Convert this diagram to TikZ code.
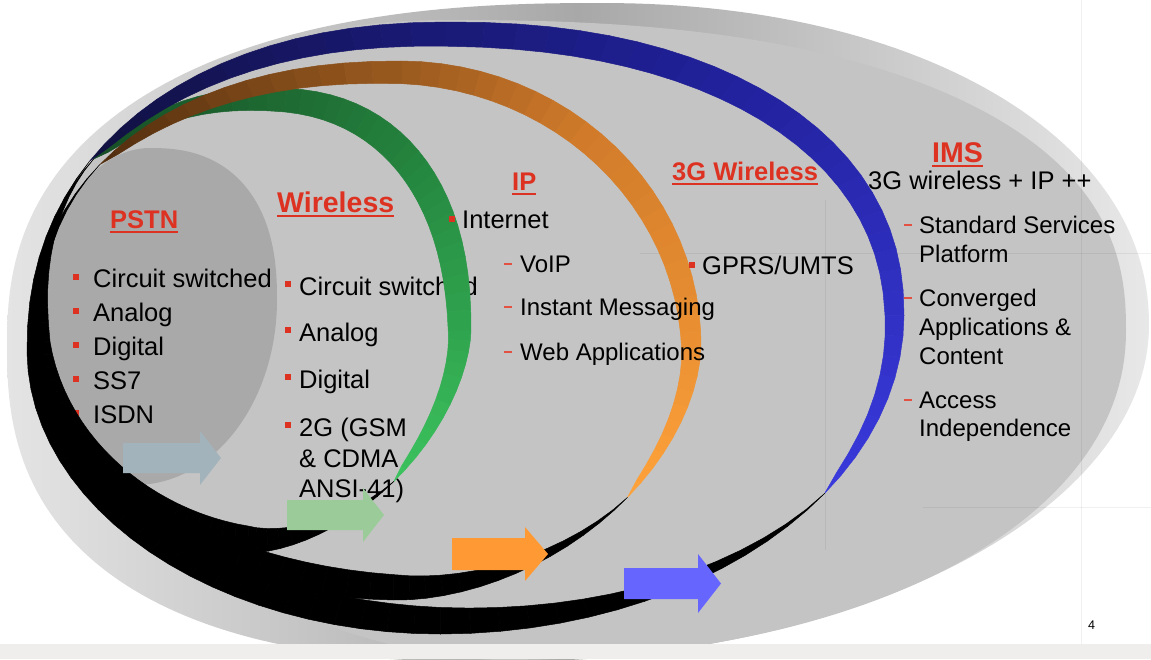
\documentclass[tikz,border=0pt]{standalone}
\usepackage{fontspec}
\usepackage{xfp}
\setmainfont{Liberation Sans}
\definecolor{bred}{RGB}{221,50,33}
\definecolor{maingrey}{HTML}{C4C4C4}
\definecolor{pstngrey}{HTML}{A9A9A9}
\definecolor{rimL}{HTML}{E4E4E4}
\definecolor{rimM}{HTML}{A8A8A8}
\definecolor{rimR}{HTML}{E8E8E8}
\definecolor{stripc}{HTML}{F0EEEC}
\definecolor{gD}{HTML}{174D26}
\definecolor{gM}{HTML}{24843E}
\definecolor{gB}{HTML}{3CC35E}
\definecolor{oD}{HTML}{4F2C0E}
\definecolor{oM}{HTML}{D07A2A}
\definecolor{oB}{HTML}{FFA23A}
\definecolor{bD}{HTML}{10103F}
\definecolor{bM}{HTML}{20209A}
\definecolor{bB}{HTML}{3A3ADE}
\definecolor{arGrey}{HTML}{A3B3BB}
\definecolor{arGreen}{HTML}{9CCB9A}
\definecolor{arOrange}{HTML}{FF9933}
\definecolor{arBlue}{HTML}{6666FF}

% egg-shaped outline made of four quarter super-ellipses
\newcommand\eggparams[8]{\def\eXT{#1}\def\eYT{#2}\def\eXR{#3}\def\eYR{#4}\def\eXB{#5}\def\eYB{#6}\def\eXL{#7}\def\eYL{#8}}
\newcommand\eggexps[4]{\def\eNa{#1}\def\eNb{#2}\def\eNc{#3}\def\eNd{#4}}
\newcommand\egN[1]{(sind(#1)>0 ? (cosd(#1)>0 ? \eNb : \eNc) : (cosd(#1)>0 ? \eNa : \eNd))}
\newcommand\egCX[1]{(sind(#1)>0 ? \eXB : \eXT)}
\newcommand\egCY[1]{(cosd(#1)>0 ? \eYR : \eYL)}
\newcommand\egRX[1]{(cosd(#1)>0 ? \eXR-\egCX{#1} : \egCX{#1}-\eXL)}
\newcommand\egRY[1]{(sind(#1)>0 ? \eYB-\egCY{#1} : \egCY{#1}-\eYT)}
\newcommand\egX[2]{\fpeval{round(\egCX{#1}+(\egRX{#1}-(#2))*(cosd(#1)<0 ? -1 : 1)*(max(abs(cosd(#1)),1e-9))^(2/\egN{#1}),2)}}
\newcommand\egY[2]{\fpeval{round(\egCY{#1}+(\egRY{#1}-(#2))*(sind(#1)<0 ? -1 : 1)*(max(abs(sind(#1)),1e-9))^(2/\egN{#1}),2)}}

% filled egg outline: #1 path options, #2 number of samples
\newcommand\eggfill[2]{%
  \gdef\egPath{}%
  \foreach \k in {0,...,#2}{%
    \edef\egT{\fpeval{360*\k/#2}}%
    \xdef\egPath{\egPath (\egX{\egT}{0},\egY{\egT}{0}) --}%
  }%
  \edef\egCmd{\noexpand\path[#1] \egPath cycle;}%
  \egCmd
}

% ring: #1 t1 (upper-left junction), #2 t2 (lower-right junction), #3 coloured width, #4 black width,
% #5 dark, #6 mid, #7 bright, #8 pieces, #9 exponent of the black profile
\newcommand\drawring[9]{%
  \edef\rgTa{\fpeval{#1}}%
  \edef\rgSpan{\fpeval{#2+360-(#1)}}%
  \foreach \i in {1,...,#8}{%
    \edef\rgA{\fpeval{\rgTa+(\i-1)*\rgSpan/#8}}%
    \edef\rgB{\fpeval{\rgTa+\i*\rgSpan/#8}}%
    \edef\rgWa{\fpeval{round(#3*(max(sind(180*(\rgA-\rgTa)/\rgSpan),1e-9))^0.6,2)}}%
    \edef\rgWb{\fpeval{round(#3*(max(sind(180*(\rgB-\rgTa)/\rgSpan),1e-9))^0.6,2)}}%
    \edef\rgPc{\fpeval{trunc(200*(\i-0.5)/#8)}}%
    \ifnum\rgPc<100 \colorlet{bandc}{#6!\rgPc!#5}\else\edef\rgPd{\fpeval{\rgPc-100}}\colorlet{bandc}{#7!\rgPd!#6}\fi
    \edef\rgCmd{\noexpand\filldraw[bandc, line width=0.5pt, line join=round]
      (\egX{\rgA}{0},\egY{\rgA}{0}) -- (\egX{\rgB}{0},\egY{\rgB}{0})
      -- (\egX{\rgB}{\rgWb},\egY{\rgB}{\rgWb}) -- (\egX{\rgA}{\rgWa},\egY{\rgA}{\rgWa}) -- cycle;}%
    \rgCmd
  }%
  \edef\rgBs{\fpeval{#1-(#2)}}%
  \foreach \i in {1,...,#8}{%
    \edef\rgA{\fpeval{#2+(\i-1)*\rgBs/#8}}%
    \edef\rgB{\fpeval{#2+\i*\rgBs/#8}}%
    \edef\rgWa{\fpeval{round(#4*(max(sind(180*((\rgA-(#2))/\rgBs)^0.85),0))^#9,2)}}%
    \edef\rgWb{\fpeval{round(#4*(max(sind(180*((\rgB-(#2))/\rgBs)^0.85),0))^#9,2)}}%
    \edef\rgCmd{\noexpand\filldraw[black, line width=0.5pt, line join=round]
      (\egX{\rgA}{0},\egY{\rgA}{0}) -- (\egX{\rgB}{0},\egY{\rgB}{0})
      -- (\egX{\rgB}{\rgWb},\egY{\rgB}{\rgWb}) -- (\egX{\rgA}{\rgWa},\egY{\rgA}{\rgWa}) -- cycle;}%
    \rgCmd
  }%
}

\tikzset{
  tone/.style={anchor=base west, inner sep=0pt, font=\fontsize{25.5}{30}\selectfont},
  ttwo/.style={anchor=base west, inner sep=0pt, font=\fontsize{24}{28}\selectfont},
  ttl/.style={anchor=base west, inner sep=0pt, text=bred, font=\bfseries\fontsize{25.5}{30}\selectfont},
  ttlbig/.style={anchor=base west, inner sep=0pt, text=bred, font=\bfseries\fontsize{28.5}{33}\selectfont},
  bsq/.style={fill=bred, inner sep=0pt, minimum size=6pt, draw=none},
  bdash/.style={fill=bred!85, inner sep=0pt, minimum width=8pt, minimum height=1.8pt, draw=none},
  uline/.style={bred, line width=2pt},
  gridl/.style={black, opacity=0.06, line width=1pt},
}

\begin{document}
\begin{tikzpicture}[x=1pt,y=-1pt]
\useasboundingbox (0,0) rectangle (1151,659);
\fill[white] (0,0) rectangle (1151,659);

% outer rim of the IMS oval
\eggparams{600}{3}{1149}{325}{500}{662}{7}{345}\eggexps{2.1}{2.0}{2.5}{2.4}
\eggfill{left color=rimL, right color=rimR, middle color=rimM}{240}
% main grey body
\eggparams{450}{20}{1126}{330}{500}{660}{30}{350}\eggexps{2.4}{2.1}{1.7}{2.2}
\eggfill{fill=maingrey}{240}

% faint guide lines
\draw[gridl] (1081,0) -- (1081,644);
\draw[gridl] (640,253) -- (1151,253);
\draw[gridl] (923,507) -- (1151,507);
\draw[gridl] (825,200) -- (825,550);

% PSTN core
\eggparams{150}{148}{277}{300}{135}{485}{40}{320}\eggexps{2.4}{2.0}{2.0}{2.0}
\eggfill{fill=pstngrey}{180}

% PSTN text
\node[ttl] (pstnT) at (110,228) {PSTN};
\draw[uline] ([yshift=-3.5pt]pstnT.base west) -- ([yshift=-3.5pt]pstnT.base east);
\node[tone] (p1) at (93,287) {Circuit switched};
\node[tone] (p2) at (93,321) {Analog};
\node[tone] (p3) at (93,355) {Digital};
\node[tone] (p4) at (93,389) {SS7};
\node[tone] (p5) at (93,423) {ISDN};
\node[bsq] (pb1) at (76,276.5) {};
\node[bsq] (pb2) at (76,310.5) {};
\node[bsq] (pb3) at (76,344.5) {};
\node[bsq] (pb4) at (76,378.5) {};
\node[bsq] (pb5) at (76,412.5) {};

% Wireless text
\node[ttlbig] (wlT) at (277,212) {Wireless};
\draw[uline] ([yshift=-4pt]wlT.base west) -- ([yshift=-4pt]wlT.base east);
\node[tone] (w1) at (299,295) {Circuit switched};
\node[tone] (w2) at (299,341) {Analog};
\node[tone] (w3) at (299,388) {Digital};
\node[tone] (w4) at (299,436) {2G (GSM};
\node[tone] (w5) at (299,467) {\& CDMA};
\node[tone] (w6) at (299,497) {ANSI-41)};
\node[bsq] (wb1) at (288,284) {};
\node[bsq] (wb2) at (288,330) {};
\node[bsq] (wb3) at (288,377) {};
\node[bsq] (wb4) at (288,425) {};

% Wireless ring (green / black)
\eggparams{270}{88}{471}{330}{250}{553}{32}{340}\eggexps{2.3}{1.7}{2.0}{2.2}
\drawring{224}{46}{28}{36}{gD}{gM}{gB}{48}{1.5}

% IP ring (orange / black)
\eggparams{400}{61}{701}{345}{400}{600}{30}{345}\eggexps{2.0}{1.8}{2.0}{2.2}
\drawring{217.4}{39}{26}{30}{oD}{oM}{oB}{48}{1.5}

% IP text
\node[ttl] (ipT) at (512,190) {IP};
\draw[uline] ([yshift=-3.5pt]ipT.base west) -- ([yshift=-3.5pt]ipT.base east);
\node[tone] (i1) at (462,228) {Internet};
\node[bsq] (ib1) at (452,218.5) {};
\node[ttwo] (i2) at (520,272) {VoIP};
\node[ttwo] (i3) at (520,315) {Instant Messaging};
\node[ttwo] (i4) at (520,360) {Web Applications};
\node[bdash] (id2) at (507.5,264) {};
\node[bdash] (id3) at (507.5,307) {};
\node[bdash] (id4) at (507.5,352) {};

% 3G title and IMS text
\node[ttl] (g3T) at (672,180) {3G Wireless};
\draw[uline] ([yshift=-3.5pt]g3T.base west) -- ([yshift=-3.5pt]g3T.base east);
\node[ttlbig] (imsT) at (932,162) {IMS};
\draw[uline] ([yshift=-4pt]imsT.base west) -- ([yshift=-4pt]imsT.base east);
\node[bsq] (mb0) at (853,179) {};
\node[tone] (m0) at (868,189) {3G wireless + IP ++};
\node[ttwo] (m1) at (919,233) {Standard Services};
\node[ttwo] (m1b) at (919,262) {Platform};
\node[ttwo] (m2) at (919,306) {Converged};
\node[ttwo] (m2b) at (919,335) {Applications \&};
\node[ttwo] (m2c) at (919,364) {Content};
\node[ttwo] (m3) at (919,408) {Access};
\node[ttwo] (m3b) at (919,436) {Independence};
\node[bdash] (md1) at (907.5,225) {};
\node[bdash] (md2) at (907.5,298) {};
\node[bdash] (md3) at (907.5,400) {};

% 3G ring (blue / black)
\eggparams{450}{22}{904}{315}{440}{634}{27}{350}\eggexps{2.2}{2.0}{2.0}{2.2}
\drawring{213}{34}{27}{30}{bD}{bM}{bB}{48}{1.5}

% GPRS
\node[tone] (g1) at (702,274) {GPRS/UMTS};
\node[bsq] (gb1) at (692,264.5) {};

% block arrows
\fill[arGrey] (123,443) -- (200,443) -- (200,431) -- (221,458) -- (200,485) -- (200,473) -- (123,473) -- cycle;
\fill[arGreen] (287,500) -- (363,500) -- (363,488) -- (384,515) -- (363,542) -- (363,530) -- (287,530) -- cycle;
\fill[arOrange] (452,538) -- (525,538) -- (525,527) -- (548,554) -- (525,581) -- (525,570) -- (452,570) -- cycle;
\fill[arBlue] (624,568) -- (698,568) -- (698,554) -- (721,583.5) -- (698,613) -- (698,599) -- (624,599) -- cycle;

% bottom strip and page number
\fill[stripc] (0,644) rectangle (1151,659);
\node[anchor=base west, inner sep=0pt, font=\fontsize{12.5}{14}\selectfont] (pg) at (1088,629) {4};
\end{tikzpicture}
\end{document}
